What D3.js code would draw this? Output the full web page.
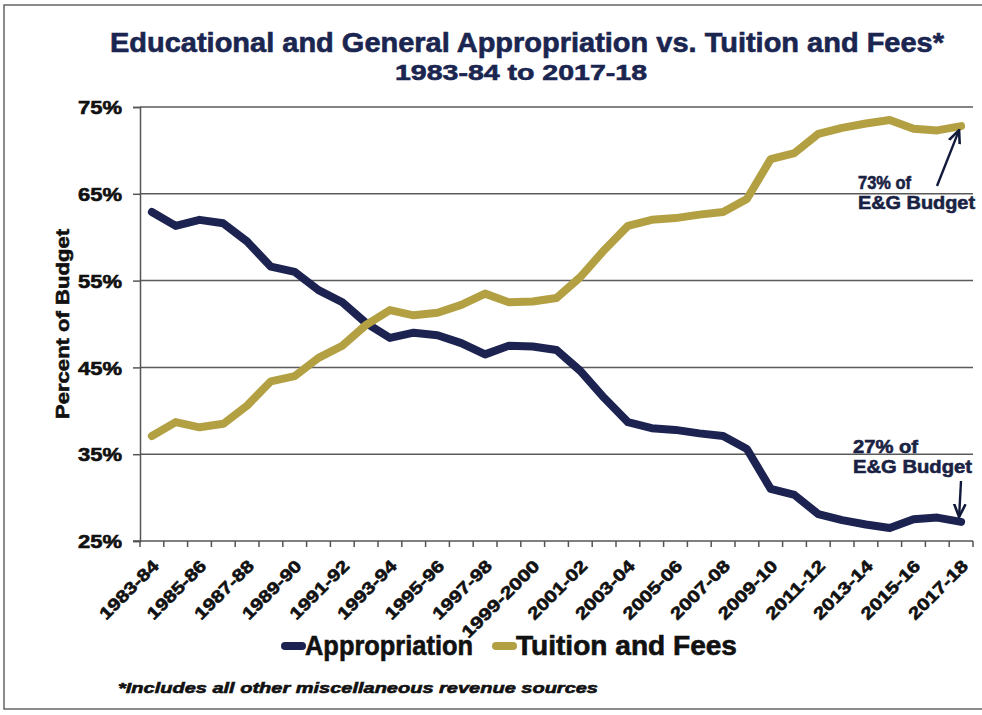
<!DOCTYPE html>
<html>
<head>
<meta charset="utf-8">
<script src="https://cdn.jsdelivr.net/npm/d3@7"></script>
<style>
  html, body { margin: 0; padding: 0; background: #fff; }
  svg { display: block; }
</style>
</head>
<body>
<svg id="chart" width="982" height="715"></svg>
<script>
// Fiscal years, 1983-84 through 2017-18
const years = [
  "1983-84","1984-85","1985-86","1986-87","1987-88","1988-89","1989-90","1990-91",
  "1991-92","1992-93","1993-94","1994-95","1995-96","1996-97","1997-98","1998-99",
  "1999-2000","2000-01","2001-02","2002-03","2003-04","2004-05","2005-06","2006-07",
  "2007-08","2008-09","2009-10","2010-11","2011-12","2012-13","2013-14","2014-15",
  "2015-16","2016-17","2017-18"
];

// Share of the E&G budget (%)
const appropriation = [
  62.9, 61.3, 62.0, 61.6, 59.5, 56.6, 56.0, 53.9,
  52.5, 50.1, 48.4, 49.0, 48.7, 47.8, 46.5, 47.5,
  47.4, 47.0, 44.6, 41.5, 38.7, 38.0, 37.8, 37.4,
  37.1, 35.6, 31.0, 30.3, 28.1, 27.4, 26.9, 26.5,
  27.5, 27.7, 27.2
];
const tuition = [
  37.1, 38.7, 38.1, 38.5, 40.6, 43.4, 44.0, 46.1,
  47.5, 49.9, 51.6, 51.0, 51.3, 52.2, 53.5, 52.5,
  52.6, 53.0, 55.4, 58.5, 61.3, 62.0, 62.2, 62.6,
  62.9, 64.4, 69.0, 69.7, 71.9, 72.6, 73.1, 73.5,
  72.5, 72.3, 72.8
];

const yTicks = [25, 35, 45, 55, 65, 75];
const seriesNames = ["Appropriation", "Tuition and Fees"];
const seriesColors = ["#1c2350", "#b3a043"];

const svg = d3.select("#chart");
const m = { left: 140, right: 973, top: 107, bottom: 541 };
const navy = "#1a2550";
const FONT = "'Liberation Sans', Arial, sans-serif";

// heavy condensed bold text helper
function heavy(sel, size, color, len) {
  sel.attr("font-family", FONT).attr("font-weight", "bold").attr("font-size", size)
    .attr("fill", color).attr("stroke", color).attr("stroke-width", 0.6)
    .attr("paint-order", "stroke");
  if (len) sel.attr("textLength", len).attr("lengthAdjust", "spacingAndGlyphs");
  return sel;
}

// outer frame
svg.append("rect")
  .attr("x", 4).attr("y", 5).attr("width", 990).attr("height", 704)
  .attr("fill", "none").attr("stroke", "#666").attr("stroke-width", 1.5);

const x = d3.scaleBand().domain(years).range([m.left, m.right]).paddingInner(0).paddingOuter(0);
const y = d3.scaleLinear().domain([25, 75]).range([m.bottom, m.top]);

// title
heavy(svg.append("text").attr("x", 527).attr("y", 52).attr("text-anchor", "middle"),
      27, navy, 834)
  .text("Educational and General Appropriation vs. Tuition and Fees*");
heavy(svg.append("text").attr("x", 521).attr("y", 80).attr("text-anchor", "middle"),
      22, navy, 252)
  .text("1983-84 to 2017-18");

// horizontal gridlines
svg.append("g")
  .selectAll("line").data(yTicks.slice(1)).join("line")
  .attr("x1", m.left).attr("x2", m.right)
  .attr("y1", d => y(d)).attr("y2", d => y(d))
  .attr("stroke", "#5a5a5a").attr("stroke-width", 1.5);

// y axis
const yAxis = svg.append("g")
  .attr("transform", `translate(${m.left},0)`)
  .call(d3.axisLeft(y).tickValues(yTicks).tickSize(7).tickPadding(11).tickFormat(d => d + "%"));
yAxis.select(".domain").attr("stroke", "#555").attr("stroke-width", 1.5);
yAxis.selectAll(".tick line").attr("stroke", "#555").attr("stroke-width", 1.5);
yAxis.selectAll("text").each(function () {
  heavy(d3.select(this), 19, "#111", 44).attr("dy", "0.35em");
});

heavy(svg.append("text")
  .attr("transform", `translate(69,${(m.top + m.bottom) / 2}) rotate(-90)`)
  .attr("text-anchor", "middle"), 19, "#111", 190)
  .text("Percent of Budget");

// x axis: tick marks between categories, every other label
const xAxisG = svg.append("g").attr("transform", `translate(0,${m.bottom})`);
xAxisG.append("line")
  .attr("x1", m.left - 7).attr("x2", m.right)
  .attr("stroke", "#555").attr("stroke-width", 1.5);
xAxisG.selectAll("line.tk").data(d3.range(years.length + 1)).join("line")
  .attr("class", "tk")
  .attr("x1", i => m.left + i * x.step()).attr("x2", i => m.left + i * x.step())
  .attr("y1", 0).attr("y2", 6)
  .attr("stroke", "#555").attr("stroke-width", 1.5);
xAxisG.selectAll("text").data(years.filter((d, i) => i % 2 === 0)).join("text")
  .attr("transform", d => `translate(${x(d) + x.bandwidth() / 2 + 8},${26}) rotate(-45)`)
  .attr("text-anchor", "end")
  .each(function (d) {
    heavy(d3.select(this), 17, "#111", d.length > 7 ? 102 : 76);
  })
  .text(d => d);

// lines
const line = d3.line()
  .x((d, i) => x(years[i]) + x.bandwidth() / 2)
  .y(d => y(d));
[appropriation, tuition].forEach((vals, k) => {
  svg.append("path")
    .datum(vals)
    .attr("d", line)
    .attr("fill", "none")
    .attr("stroke", seriesColors[k])
    .attr("stroke-width", 8)
    .attr("stroke-linejoin", "round")
    .attr("stroke-linecap", "round");
});

// annotations
const last = years.length - 1;
const lastX = x(years[last]) + x.bandwidth() / 2;
svg.append("defs").append("marker")
  .attr("id", "arr").attr("viewBox", "0 0 10 10")
  .attr("refX", 9).attr("refY", 5).attr("markerWidth", 6).attr("markerHeight", 6)
  .attr("orient", "auto-start-reverse")
  .append("path").attr("d", "M0,1 L9,5 L0,9").attr("fill", "none")
  .attr("stroke", "#111a3a").attr("stroke-width", 1.8);

function note(lines, tx, ty, lens, ax1, ay1, ax2, ay2) {
  lines.forEach((s, i) => {
    heavy(svg.append("text").attr("x", tx).attr("y", ty + i * 20), 19, "#1a2244", lens[i])
      .text(s);
  });
  svg.append("line")
    .attr("x1", ax1).attr("y1", ay1).attr("x2", ax2).attr("y2", ay2)
    .attr("stroke", "#111a3a").attr("stroke-width", 2.4)
    .attr("marker-end", "url(#arr)");
}
note([`${Math.round(tuition[last])}% of`, "E&G Budget"], 858, 189, [53, 117],
     937, 186, lastX - 2, y(tuition[last]) + 4);
note([`${Math.round(appropriation[last])}% of`, "E&G Budget"], 853, 453, [65, 119],
     961, 481, lastX - 2, y(appropriation[last]) - 5);

// legend
const legendItems = [
  { name: seriesNames[0], color: seriesColors[0], x0: 285, len: 168 },
  { name: seriesNames[1], color: seriesColors[1], x0: 496, len: 221 }
];
legendItems.forEach(it => {
  svg.append("line")
    .attr("x1", it.x0).attr("x2", it.x0 + 17).attr("y1", 646).attr("y2", 646)
    .attr("stroke", it.color).attr("stroke-width", 8).attr("stroke-linecap", "round");
  heavy(svg.append("text").attr("x", it.x0 + 20).attr("y", 655), 27, "#111", it.len)
    .text(it.name);
});

// footnote
heavy(svg.append("text").attr("x", 118).attr("y", 693).attr("font-style", "italic"),
      15, "#111", 480)
  .attr("font-style", "italic")
  .text("*Includes all other miscellaneous revenue sources");
</script>
</body>
</html>
